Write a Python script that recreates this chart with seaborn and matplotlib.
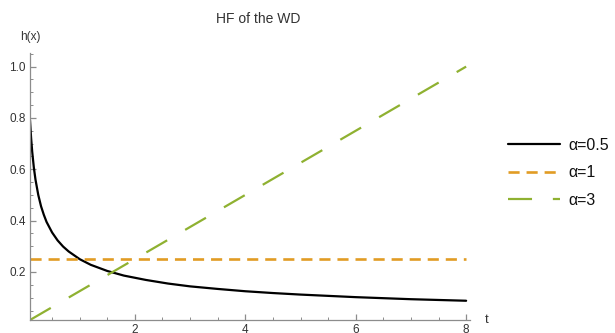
import matplotlib
matplotlib.use("Agg")
import matplotlib.pyplot as plt
import seaborn as sns
import numpy as np

# Data
x_a05 = [0.1, 0.12, 0.14, 0.17, 0.2, 0.25, 0.3, 0.35, 0.4, 0.5, 0.6, 0.7, 0.8, 1.0,
         1.2, 1.5, 1.8, 2.2, 2.6, 3.0, 3.5, 4.0, 4.5, 5.0, 5.5, 6.0, 6.5, 7.0, 7.5, 8.0]
h_a05 = [0.791, 0.722, 0.668, 0.606, 0.559, 0.500, 0.456, 0.423, 0.395, 0.354, 0.323,
         0.299, 0.280, 0.250, 0.228, 0.204, 0.186, 0.169, 0.155, 0.144, 0.134, 0.125,
         0.118, 0.112, 0.107, 0.102, 0.098, 0.094, 0.091, 0.088]
x_a1 = [0.1, 8.0]
h_a1 = [0.25, 0.25]
x_a3 = [0.1, 8.0]
h_a3 = [0.013, 1.0]

labels = ["α=0.5", "α=1", "α=3"]
title = "HF of the WD"
xticks = [2, 4, 6, 8]
yticks = [0.2, 0.4, 0.6, 0.8, 1.0]

sns.set_style("white")
plt.rcParams['font.family'] = ['Liberation Sans', 'DejaVu Sans']
plt.rcParams['lines.scale_dashes'] = False

W, H = 615, 333
fig = plt.figure(figsize=(W / 100, H / 100), dpi=100)
ax = fig.add_axes([30 / W, 13 / H, 440 / W, 267 / H])

black = "#000000"
orange = "#E19C24"
green = "#8FB131"

sns.lineplot(x=x_a05, y=h_a05, ax=ax, color=black, lw=1.6, label=labels[0])
sns.lineplot(x=x_a1, y=h_a1, ax=ax, color=orange, lw=1.9, label=labels[1],
             linestyle=(0, (8, 5)))
sns.lineplot(x=x_a3, y=h_a3, ax=ax, color=green, lw=1.6, label=labels[2],
             linestyle=(0, (17.3, 15)))

ax.set_xlim(0.1, 8.07)
ax.set_ylim(0.013, 1.053)

axis_col = "#8c8c8c"
text_col = "#333333"
for s in ["top", "right"]:
    ax.spines[s].set_visible(False)
for s in ["left", "bottom"]:
    ax.spines[s].set_color(axis_col)
    ax.spines[s].set_linewidth(0.9)

ax.set_xticks(xticks)
ax.set_yticks(yticks)
ax.set_xticks(np.arange(0.5, 8.01, 0.5), minor=True)
ax.set_yticks(np.arange(0.05, 1.051, 0.05), minor=True)
ax.tick_params(axis="both", which="both", bottom=True, left=True, top=False, right=False)
ax.tick_params(axis="both", which="major", direction="in", length=4, width=0.9,
               color=axis_col, labelsize=8.5, labelcolor=text_col, pad=3)
ax.tick_params(axis="both", which="minor", direction="in", length=2.2, width=0.7,
               color=axis_col)
ax.set_xticklabels([str(v) for v in xticks])
ax.set_yticklabels([f"{v:.1f}" for v in yticks])
ax.set_xlabel("")
ax.set_ylabel("")

fig.text(30 / W, 1 - 37 / H, "h(x)", ha="center", va="center", fontsize=8.5, color=text_col)
fig.text(487 / W, 1 - 320 / H, "t", ha="center", va="center", fontsize=9.5, color=text_col)
fig.text(258 / W, 1 - 19 / H, title, ha="center", va="center", fontsize=10, color=text_col)

leg = ax.legend(loc="center left", bbox_to_anchor=(508 / W, 1 - 173 / H),
                bbox_transform=fig.transFigure, frameon=False, fontsize=11.5,
                handlelength=3.25, handletextpad=0.55, labelspacing=0.78,
                borderaxespad=0, borderpad=0)
for t in leg.get_texts():
    t.set_color("#111111")

fig.savefig("out.png", dpi=100)
